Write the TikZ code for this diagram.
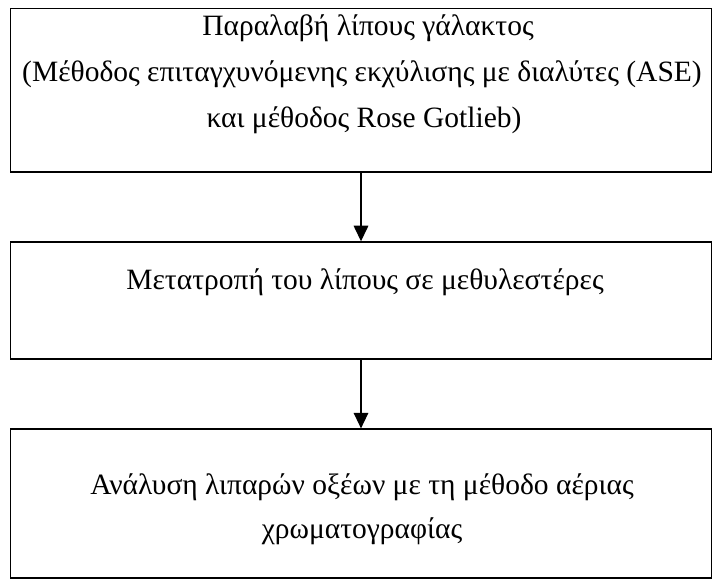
\documentclass[tikz,border=0pt]{standalone}
\usepackage{fontspec}
\setmainfont{Liberation Serif}
\usetikzlibrary{arrows.meta}
\begin{document}
\begin{tikzpicture}[x=1bp,y=-1bp]
\tikzset{
  box/.style={draw, line width=1.4bp, minimum width=700.6bp, inner sep=0pt, anchor=north},
  txt/.style={font=\fontsize{29.5bp}{34bp}\selectfont, anchor=base, inner sep=0pt},
  flow/.style={line width=1.4bp, -{Triangle[width=14.6bp,length=15.6bp]}}
}
\useasboundingbox (0,0) rectangle (723,580);
\clip (0,0) rectangle (723,580);
\fill[white] (0,0) rectangle (723,580);

% the three process steps
\node[box, minimum height=163.6bp] (b1) at (361,7.8) {};
\node[box, minimum height=117bp] (b2) at (361,241.3) {};
\node[box, minimum height=149bp] (b3) at (361,428.4) {};

% step texts
\node[txt] (t1a) at (368,35.7) {Παραλαβή λίπους γάλακτος};
\node[txt] (t1b) at (362,81.7) {(Μέθοδος επιταγχυνόμενης εκχύλισης με διαλύτες (ASE)};
\node[txt] (t1c) at (364,127.7) {και μέθοδος Rose Gotlieb)};
\node[txt] (t2a) at (365,289) {Μετατροπή του λίπους σε μεθυλεστέρες};
\node[txt] (t3a) at (362,494) {Ανάλυση λιπαρών οξέων με τη μέθοδο αέριας};
\node[txt] (t3b) at (362,538) {χρωματογραφίας};

% arrows between steps
\draw[flow] (b1.south) -- (b2.north);
\draw[flow] (b2.south) -- (b3.north);
\end{tikzpicture}
\end{document}
